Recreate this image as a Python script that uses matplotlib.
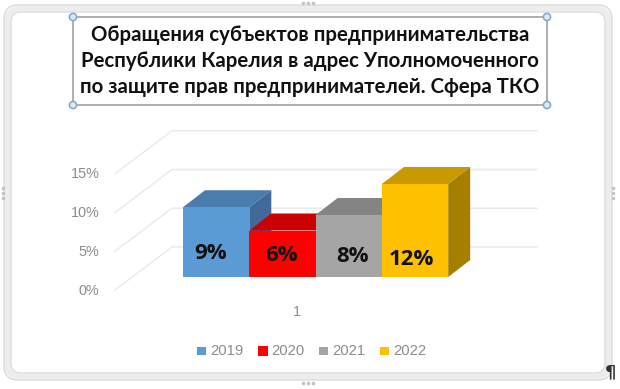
import matplotlib
matplotlib.use("Agg")
import matplotlib.pyplot as plt
from matplotlib.patches import FancyBboxPatch, Polygon, Rectangle, Circle

years = ["2019", "2020", "2021", "2022"]
values = [9, 6, 8, 12]
labels = ["9%", "6%", "8%", "12%"]
front = ["#5B9BD5", "#FF0000", "#A5A5A5", "#FFC000"]
top = ["#4A7CAE", "#CC0000", "#848484", "#C89A00"]
side = ["#41699A", "#B00000", "#747474", "#A67F00"]
yticks = [0, 5, 10, 15]
ytick_labels = ["0%", "5%", "10%", "15%"]
category = "1"
title = ["Обращения субъектов предпринимательства",
         "Республики Карелия в адрес Уполномоченного",
         "по защите прав предпринимателей. Сфера ТКО"]

W, H = 620, 389
fig = plt.figure(figsize=(W / 100, H / 100), dpi=100)

# background layer in pixels: window frame and title box
bg = fig.add_axes([0, 0, 1, 1])
bg.set_xlim(0, W)
bg.set_ylim(H, 0)
bg.axis("off")
bg.add_patch(FancyBboxPatch((8, 9), 600, 367, boxstyle="round,pad=0,rounding_size=12",
                            fc="white", ec="#EDEDED", lw=5))
bg.add_patch(FancyBboxPatch((4, 5), 608, 375, boxstyle="round,pad=0,rounding_size=14",
                            fc="none", ec="#DADADA", lw=1))
bg.add_patch(FancyBboxPatch((11, 12), 594, 361, boxstyle="round,pad=0,rounding_size=10",
                            fc="none", ec="#DADADA", lw=0.8))

# chart layer: x in bar units, y in percent
ux, uy = 66.3, 7.75
x0, y0 = 183, 277
ax = fig.add_axes([0, 0, 1, 1])
ax.set_xlim(-x0 / ux, (W - x0) / ux)
ax.set_ylim((y0 - H) / uy, y0 / uy)
ax.axis("off")
ax.patch.set_alpha(0)

# depth of the 3d bars and the offset of the wall
dx, dy = 22 / ux, 17 / uy
for v in yticks:
    xs = [-1.026, -0.166, 5.34]
    ys = [v - 1.68, v + 3.87, v + 3.87]
    ax.plot(xs, ys, color="#EBEBEB", lw=1.1, zorder=1)
    ax.text(-1.26, v - 1.68 - 0.08, ytick_labels[yticks.index(v)], ha="right", va="center",
            color="#8C8C8C", fontsize=10.4, family="Liberation Sans", zorder=1)

# the labels sit a little off centre in the original
label_dx = [0.42, 0.49, 0.55, 0.44]
label_dy = [3.0, 2.75, 2.6, 2.2]
for i, v in enumerate(values):
    z = 2 + i
    ax.add_patch(Rectangle((i, 0), 1, v, fc=front[i], ec="none", zorder=z + 0.2))
    ax.add_patch(Polygon([(i, v), (i + dx, v + dy), (i + 1 + dx, v + dy), (i + 1, v)],
                         fc=top[i], ec="none", zorder=z))
    ax.add_patch(Polygon([(i + 1, 0), (i + 1 + dx, dy), (i + 1 + dx, v + dy), (i + 1, v)],
                         fc=side[i], ec="none", zorder=z))
    ax.text(i + label_dx[i], label_dy[i], labels[i], ha="center", va="center",
            fontsize=16, fontweight="bold", color="#111111",
            family=["Open Sans", "DejaVu Sans"], zorder=10)

ax.text(1.72, -4.55, category, ha="center", va="center", color="#8C8C8C",
        fontsize=10.4, family="Liberation Sans")

# overlay in pixels: title box, legend, handles
fg = fig.add_axes([0, 0, 1, 1])
fg.set_xlim(0, W)
fg.set_ylim(H, 0)
fg.axis("off")
fg.patch.set_alpha(0)
fg.add_patch(Rectangle((73, 17), 474, 88, fc="white", ec="#A9A9A9", lw=1.3))
for cx, cy in [(73, 17), (547, 17), (73, 105), (547, 105)]:
    fg.add_patch(Circle((cx, cy), 3.6, fc="#DCE8F4", ec="#7FA6CC", lw=1.1))
for line, ty in zip(title, [35, 61, 87]):
    fg.text(310, ty, line, ha="center", va="center", color="#111111", fontsize=14.7,
            fontweight="bold", family=["Lato", "Open Sans", "DejaVu Sans"])

legend_x = [197, 258, 319, 380]
for i, name in enumerate(years):
    s = 10 if i == 1 else 8.5
    fg.add_patch(Rectangle((legend_x[i], 351 - s / 2), s, s, fc=front[i], ec="none"))
    fg.text(legend_x[i] + 13, 351, name, ha="left", va="center", color="#8C8C8C",
            fontsize=10.6, family="Liberation Sans")

fg.text(611, 372, "¶", ha="center", va="center", color="#333333", fontsize=13,
        family="DejaVu Sans", fontweight="bold")
for xc in [303, 308, 313]:
    fg.plot([xc], [2.5], marker="s", ms=1.6, color="#C4C4C4")
    fg.plot([xc], [382.5], marker="s", ms=1.6, color="#C4C4C4")
for yc in [188, 193, 198]:
    fg.plot([3], [yc], marker="s", ms=1.6, color="#C4C4C4")
    fg.plot([613], [yc], marker="s", ms=1.6, color="#C4C4C4")

fig.savefig("out.png", dpi=100)
